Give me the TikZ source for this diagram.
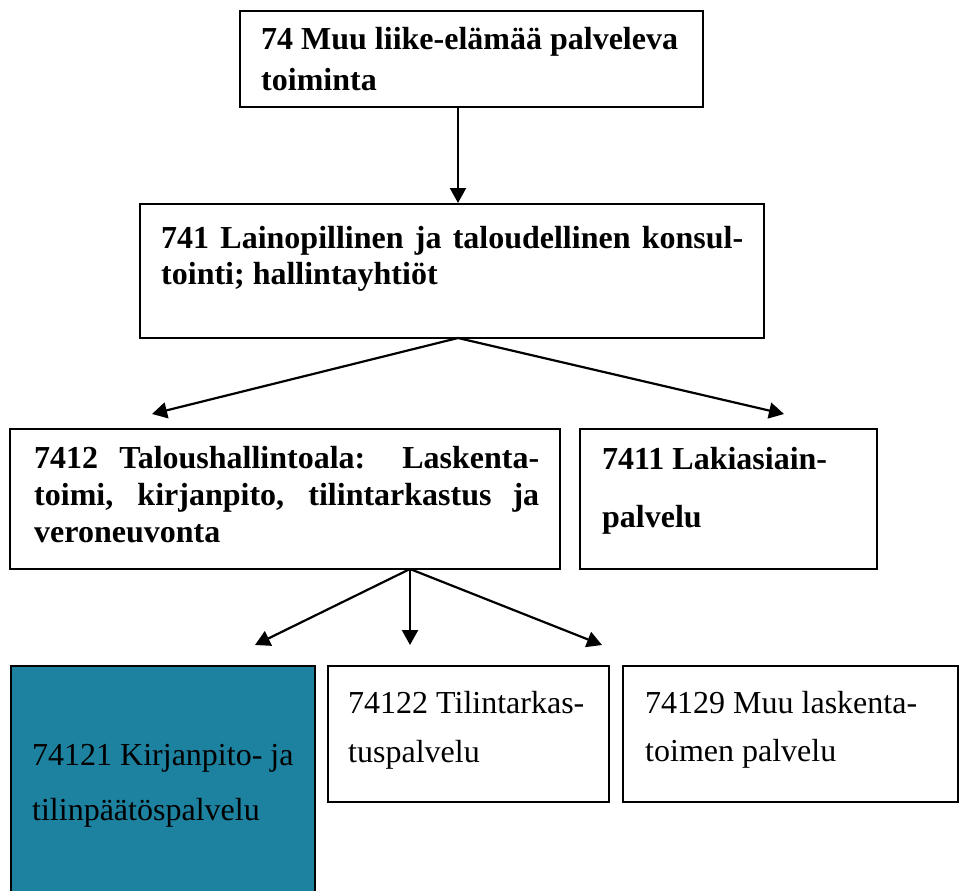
\documentclass[tikz,border=0pt]{standalone}
\usepackage{fontspec}
\setmainfont{Liberation Serif}
\usetikzlibrary{arrows.meta}
\definecolor{tealfill}{RGB}{29,129,160}
\begin{document}
\begin{tikzpicture}[x=1pt,y=-1pt,
  box/.style={draw=black, line width=2pt, inner sep=0pt, outer sep=0pt, anchor=north west},
  bt/.style={anchor=base west, inner sep=0pt, font=\fontsize{32}{38}\selectfont\bfseries},
  rt/.style={anchor=base west, inner sep=0pt, font=\fontsize{32}{38}\selectfont},
  conn/.style={line width=2.2pt, -{Triangle[length=15pt,width=16pt]}}]
\clip (0,0) rectangle (961,891);
\fill[white] (0,0) rectangle (961,891);
% boxes
\node[box, minimum width=463pt, minimum height=96pt] (b1) at (240,11) {};
\node[box, minimum width=624pt, minimum height=134pt] (b2) at (140,204) {};
\node[box, minimum width=550pt, minimum height=140pt] (b3) at (10,429) {};
\node[box, minimum width=297pt, minimum height=140pt] (b4) at (580,429) {};
\node[box, fill=tealfill, minimum width=304pt, minimum height=240pt] (b5) at (11,666) {};
\node[box, minimum width=281pt, minimum height=136pt] (b6) at (328,666) {};
\node[box, minimum width=335pt, minimum height=136pt] (b7) at (623,666) {};
% texts
\node[bt] (t1a) at (261,50) {74 Muu liike-elämää palveleva};
\node[bt] (t1b) at (261,90) {toiminta};
\node[bt] (t2a) at (161,248) {\makebox[582pt][s]{741 Lainopillinen ja taloudellinen konsul-}};
\node[bt] (t2b) at (161,284) {tointi; hallintayhtiöt};
\node[bt] (t3a) at (34,468) {\makebox[505pt][s]{7412 Taloushallintoala: Laskenta-}};
\node[bt] (t3b) at (34,505) {\makebox[505pt][s]{toimi, kirjanpito, tilintarkastus ja}};
\node[bt] (t3c) at (34,542) {veroneuvonta};
\node[bt] (t4a) at (602,469) {7411 Lakiasiain-};
\node[bt] (t4b) at (602,527) {palvelu};
\node[rt] (t5a) at (32,765) {74121 Kirjanpito- ja};
\node[rt] (t5b) at (32,820) {tilinpäätöspalvelu};
\node[rt] (t6a) at (348,713) {74122 Tilintarkas-};
\node[rt] (t6b) at (348,762) {tuspalvelu};
\node[rt] (t7a) at (645,713) {74129 Muu laskenta-};
\node[rt] (t7b) at (645,761) {toimen palvelu};
% connector end points
\coordinate (s1) at (458,107);
\coordinate (e1) at (458,203);
\coordinate (s2) at (458,338);
\coordinate (e2l) at (152,414);
\coordinate (e2r) at (784,414);
\coordinate (s3) at (410,569);
\coordinate (e3l) at (255,645);
\coordinate (e3m) at (410,645);
\coordinate (e3r) at (602,645);
% connectors
\draw[conn] (s1) -- (e1);
\draw[conn] (s2) -- (e2l);
\draw[conn] (s2) -- (e2r);
\draw[conn] (s3) -- (e3l);
\draw[conn] (s3) -- (e3m);
\draw[conn] (s3) -- (e3r);
\end{tikzpicture}
\end{document}
